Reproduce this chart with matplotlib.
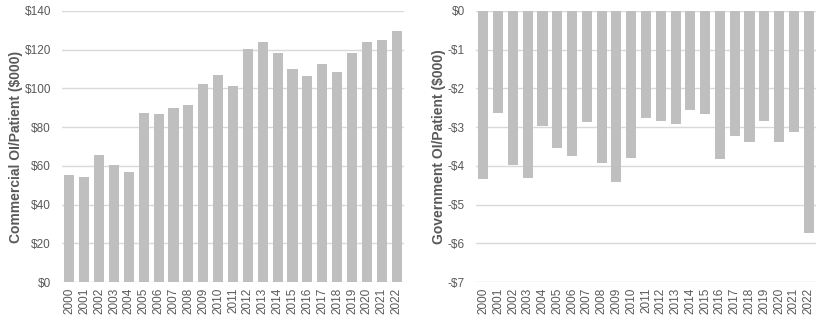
import matplotlib
matplotlib.use("Agg")
import matplotlib.pyplot as plt
from matplotlib.ticker import FuncFormatter

plt.rcParams['font.family'] = ['Liberation Sans', 'DejaVu Sans']

years = [str(y) for y in range(2000, 2023)]
commercial = [55.3, 54.3, 65.6, 60.5, 56.8, 87.3, 86.8, 89.9, 91.5, 102.3, 107.0, 101.3,
              120.4, 124.0, 118.3, 110.0, 106.5, 112.7, 108.5, 118.3, 124.0, 125.0, 129.7]
government = [-4.33, -2.63, -3.97, -4.31, -2.96, -3.53, -3.74, -2.87, -3.92, -4.41, -3.79, -2.76,
              -2.83, -2.91, -2.55, -2.65, -3.82, -3.22, -3.38, -2.83, -3.38, -3.12, -5.73]

bar_color = '#bfbfbf'
grid_color = '#d9d9d9'
text_color = '#595959'

fig = plt.figure(figsize=(8.28, 3.26), dpi=100)
ax1 = fig.add_axes([62/828, 44/326, 342/828, 271/326])
ax2 = fig.add_axes([476/828, 44/326, 340/828, 271/326])

def money(v, pos):
    if v < 0:
        return '-${:,.0f}'.format(-v)
    return '${:,.0f}'.format(v)

def style(ax, ylim, ticks, label):
    ax.set_ylim(*ylim)
    ax.set_yticks(ticks)
    ax.yaxis.set_major_formatter(FuncFormatter(money))
    ax.set_xlim(-0.5, len(years) - 0.5)
    for s in ax.spines.values():
        s.set_visible(False)
    ax.grid(axis='y', color=grid_color, linewidth=1)
    ax.set_axisbelow(True)
    ax.tick_params(axis='both', length=0, colors=text_color, labelsize=8.5)
    ax.tick_params(axis='y', pad=8)
    ax.tick_params(axis='x', pad=4)
    ax.set_xticks(range(len(years)))
    ax.set_xticklabels(years, rotation=90)
    ax.set_ylabel(label, fontsize=10, fontweight='bold', color=text_color, labelpad=1)

ax1.bar(range(len(years)), commercial, width=0.68, color=bar_color, zorder=2)
style(ax1, (0, 140), range(0, 141, 20), 'Commercial OI/Patient ($000)')

ax2.bar(range(len(years)), government, width=0.68, color=bar_color, zorder=2)
style(ax2, (-7, 0), range(-7, 1, 1), 'Government OI/Patient ($000)')

fig.savefig('out.png', dpi=100)
